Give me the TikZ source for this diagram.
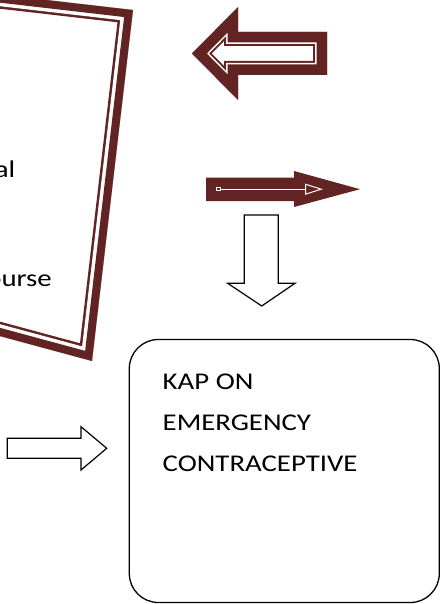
\documentclass[tikz,border=0pt]{standalone}
\usepackage{fontspec}
\setmainfont{Carlito}[FakeStretch=1.2]
\usepackage{tikz}
\usetikzlibrary{arrows.meta}
\definecolor{framered}{HTML}{622423}

\begin{document}
\begin{tikzpicture}[x=1pt,y=-1pt,
  every node/.style={font=\fontsize{24}{29}\selectfont,inner sep=0pt},
  outlinearrow/.style={draw=black,line width=1.2pt,fill=white,line join=miter},
  kapbox/.style={draw=black,line width=1.3pt,rounded corners=29pt,minimum width=310pt,minimum height=263pt}]
  \clip (0,0) rectangle (442,604);

  % tilted double frame, cut by the page edge
  \coordinate (f1) at (-300,-40);
  \coordinate (f2) at (133,10);
  \coordinate (f3) at (92,361);
  \coordinate (f4) at (-300,255);
  \begin{scope}
    \clip (f1) -- (f2) -- (f3) -- (f4) -- cycle;
    \foreach \w/\c in {28/framered, 23/white, 16/framered}
      \draw[\c,line width=\w pt] (f1) -- (f2) -- (f3) -- (f4) -- cycle;
  \end{scope}
  \node[anchor=base east] (txtal) at (15.5,177.3) {al};
  \node[anchor=base east] (txtourse) at (52,286.7) {ourse};

  % double left arrow
  \coordinate (a1) at (192,53.5);
  \coordinate (a2) at (238,7);
  \coordinate (a3) at (238,32);
  \coordinate (a4) at (327,32);
  \coordinate (a5) at (327,75);
  \coordinate (a6) at (238,75);
  \coordinate (a7) at (238,100);
  \begin{scope}
    \clip (a1) -- (a2) -- (a3) -- (a4) -- (a5) -- (a6) -- (a7) -- cycle;
    \foreach \w/\c in {28/framered, 24/white, 21/framered}
      \draw[\c,line width=\w pt] (a1) -- (a2) -- (a3) -- (a4) -- (a5) -- (a6) -- (a7) -- cycle;
  \end{scope}

  % filled right arrow
  \coordinate (m1) at (206,177.5);
  \coordinate (m2) at (294,177.5);
  \coordinate (m3) at (294,171);
  \coordinate (m4) at (360,189.2);
  \coordinate (m5) at (294,207);
  \coordinate (m6) at (294,201);
  \coordinate (m7) at (206,201);
  \fill[framered] (m1) -- (m2) -- (m3) -- (m4) -- (m5) -- (m6) -- (m7) -- cycle;
  \coordinate (ms) at (216,189.2);
  \coordinate (me) at (323,189.2);
  \draw[white,line width=1pt,{Square[open,length=5pt,width=4pt]}-{Triangle[open,length=18pt,width=11pt]}] (ms) -- (me);

  % down arrow
  \draw[outlinearrow] (244.3,215) -- (278.3,215) -- (278.3,283.3) -- (295,283.3)
    -- (261.7,306) -- (227.7,283.3) -- (244.3,283.3) -- cycle;

  % right arrow into the box
  \draw[outlinearrow] (7.3,438.3) -- (81,438.3) -- (81,426.7) -- (106.7,448.3)
    -- (81,470) -- (81,458.3) -- (7.3,458.3) -- cycle;

  \node[kapbox] (kap) at (284.3,471) {};
  \foreach \lab/\r in {KAP ON/0, EMERGENCY/1, CONTRACEPTIVE/2}
    \node[anchor=base west] (kap\r) at (162.5,{389.3+41.2*\r}) {\lab};
\end{tikzpicture}
\end{document}
